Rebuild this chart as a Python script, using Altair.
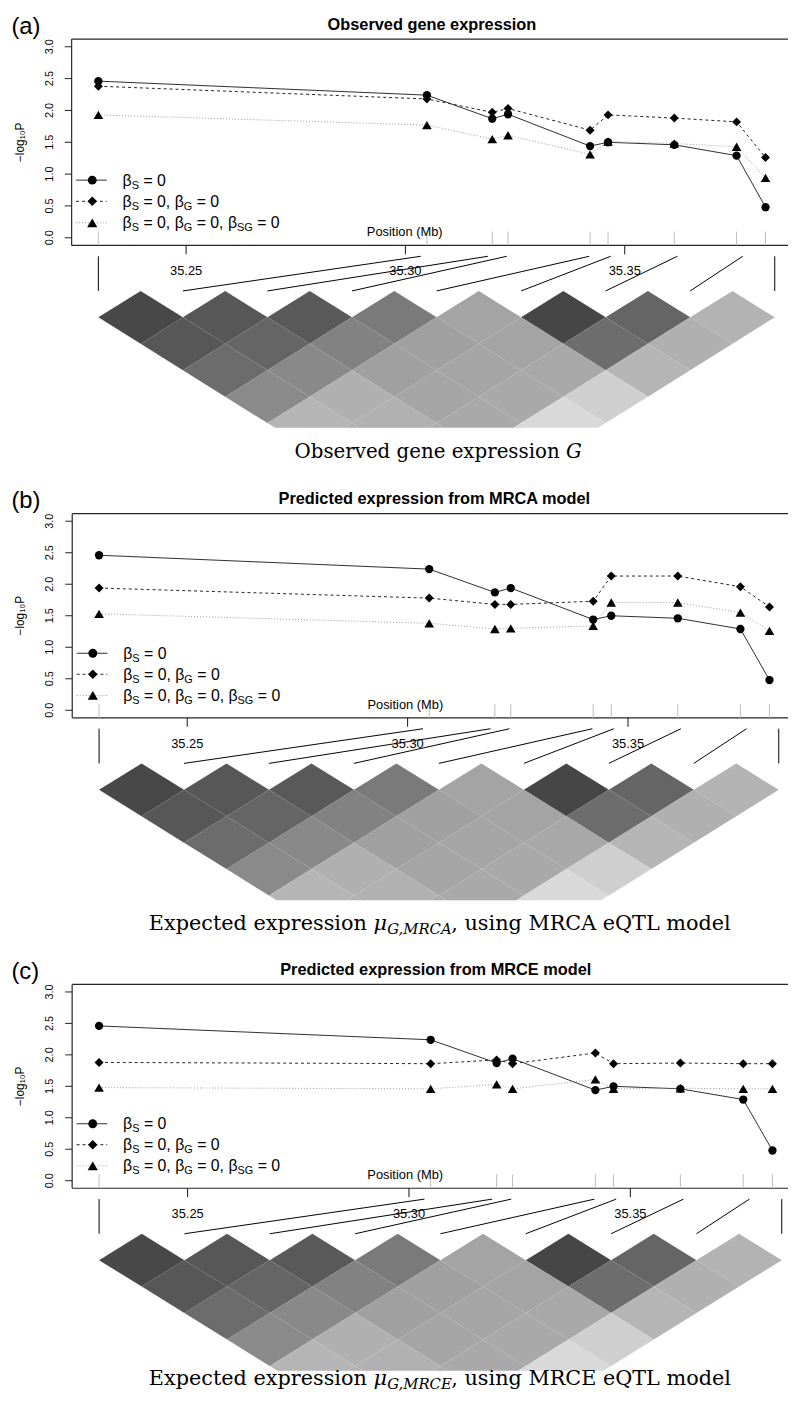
import altair as alt
import pandas as pd

# ---------------- values ----------------
snp_pos_mb = [35.2300, 35.3049, 35.3198, 35.3234, 35.3421, 35.3462, 35.3613, 35.3755, 35.3821]
ld_map_mb = [35.2300, 35.3035, 35.3188, 35.3231, 35.3419, 35.3468, 35.3620, 35.3769, 35.3842]
pos_tick_values = [35.25, 35.30, 35.35]
pos_tick_labels = ["35.25", "35.30", "35.35"]
logp_tick_values = [0.0, 0.5, 1.0, 1.5, 2.0, 2.5, 3.0]
logp_tick_labels = ["0.0", "0.5", "1.0", "1.5", "2.0", "2.5", "3.0"]

beta_s_zero = [2.46, 2.24, 1.87, 1.94, 1.44, 1.50, 1.46, 1.29, 0.48]
observed_s_g = [2.38, 2.18, 1.97, 2.03, 1.69, 1.93, 1.88, 1.82, 1.26]
observed_s_g_sg = [1.93, 1.77, 1.55, 1.61, 1.31, 1.51, 1.48, 1.43, 0.94]
mrca_s_g = [1.94, 1.78, 1.68, 1.68, 1.73, 2.13, 2.13, 1.96, 1.64]
mrca_s_g_sg = [1.53, 1.38, 1.29, 1.30, 1.34, 1.71, 1.71, 1.55, 1.26]
mrce_s_g = [1.88, 1.86, 1.92, 1.86, 2.03, 1.86, 1.87, 1.86, 1.86]
mrce_s_g_sg = [1.48, 1.46, 1.53, 1.46, 1.61, 1.46, 1.47, 1.46, 1.46]

# LD (r^2) between SNP i and SNP i+k, one list per distance k
ld_r2_rows = [
    [0.93, 0.84, 0.83, 0.635, 0.39, 0.94, 0.76, 0.30],
    [0.84, 0.76, 0.59, 0.41, 0.39, 0.71, 0.32],
    [0.72, 0.55, 0.41, 0.38, 0.365, 0.29],
    [0.54, 0.32, 0.38, 0.36, 0.135],
    [0.29, 0.31, 0.36, 0.076],
    [0.31, 0.34, 0.09],
]

legend_rows = [
    [("β", False), ("S", True), (" = 0", False)],
    [("β", False), ("S", True), (" = 0, ", False), ("β", False), ("G", True), (" = 0", False)],
    [("β", False), ("S", True), (" = 0, ", False), ("β", False), ("G", True), (" = 0, ", False),
     ("β", False), ("SG", True), (" = 0", False)],
]

# ---------------- layout / style ----------------
FONT = "Liberation Sans, Arial, Helvetica, sans-serif"
SERIF = "DejaVu Serif, Liberation Serif, serif"
O = 8.0                      # page margin: reference pixel -> view pixel
VW, VH = 796 - O, 1407 - 2 * O
Y_DOMAIN = [-0.12, 3.12]
MAP_TOP, MAP_BOT, ROW_PX, CUT_OFF = 11, 46, 26.7, 184.3
LEG_Y = [0.905, 0.572, 0.235]
LEG_FS, SUB_FS = 16, 11
ARIAL_W = {"β": 0.575, "S": 0.667, "G": 0.778, "=": 0.584, "0": 0.556, ",": 0.278, " ": 0.278}

SERIES = [
    dict(line=dict(color="#2e2e2e", strokeWidth=1), shape="circle", size=70),
    dict(line=dict(color="#222222", strokeWidth=1, strokeDash=[3, 3]), shape="diamond", size=82),
    dict(line=dict(color="#9a9a9a", strokeWidth=1, strokeDash=[1, 2]), shape="triangle-up", size=95),
]

panels = [
    dict(label="(a)", title="Observed gene expression", T=32.3, B=240.7, L=72.3, xf=99.3, xl=773.3,
         g=observed_s_g, sg=observed_s_g_sg, cap_base=455,
         caption=[("Observed gene expression", 565.3, "normal", 20, "right", 0),
                  ("G", 571.7, "italic", 20, "left", 0)]),
    dict(label="(b)", title="Predicted expression from MRCA model", T=511.7, B=718.0, L=72.9, xf=100, xl=777.3,
         g=mrca_s_g, sg=mrca_s_g_sg, cap_base=932,
         caption=[("Expected expression", 370.5, "normal", 21, "right", 0),
                  ("μ", 377.2, "italic", 21, "left", 0),
                  ("G,MRCA", 391.1, "italic", 15, "left", 4),
                  (", using MRCA eQTL model", 455.8, "normal", 21, "left", 0)]),
    dict(label="(c)", title="Predicted expression from MRCE model", T=987.3, B=1193.2, L=72.8, xf=100, xl=780.3,
         g=mrce_s_g, sg=mrce_s_g_sg, cap_base=1392,
         caption=[("Expected expression", 370.5, "normal", 21, "right", 0),
                  ("μ", 377.2, "italic", 21, "left", 0),
                  ("G,MRCE", 391.1, "italic", 15, "left", 4),
                  (", using MRCE eQTL model", 455.8, "normal", 21, "left", 0)]),
]

one = pd.DataFrame({"k": [0]})


def aw(s, fs):
    return sum(ARIAL_W[c] for c in s) * fs


def v(ref):
    """reference pixel -> view pixel"""
    return ref - O


def clipped_diamond(uc, k, dcut):
    """break points (u, top, bottom) of a rotated LD cell cut at depth dcut"""
    us = {uc - 0.5, uc, uc + 0.5}
    for h in ((dcut - k + 1) / 2, (k + 1 - dcut) / 2):
        if 0 < h < 0.5:
            us.update((uc - h, uc + h))
    out = []
    for u in sorted(us):
        a = abs(u - uc)
        out.append((u, min(k - 1 + 2 * a, dcut), min(k + 1 - 2 * a, dcut)))
    return out


def build_panel(p):
    T, B, L = p["T"], p["B"], p["L"]
    xsc = dict(domain=[snp_pos_mb[0], snp_pos_mb[-1]], range=[v(p["xf"]), v(p["xl"])],
               nice=False, zero=False)

    def X(f):
        return alt.X(f, type="quantitative", scale=alt.Scale(**xsc), axis=None)

    def Yp(f):
        return alt.Y(f, type="quantitative", axis=None,
                     scale=alt.Scale(domain=Y_DOMAIN, range=[v(B), v(T)], nice=False, zero=False))

    layers = []
    # plot frame (its right side lies outside the picture)
    fr = dict(color="#262626", strokeWidth=1.2)
    layers.append(alt.Chart(one).mark_rule(**fr).encode(x=alt.value(v(L)), x2=alt.value(VW), y=alt.value(v(T))))
    layers.append(alt.Chart(one).mark_rule(**fr).encode(x=alt.value(v(L)), x2=alt.value(VW), y=alt.value(v(B))))
    layers.append(alt.Chart(one).mark_rule(**fr).encode(x=alt.value(v(L)), y=alt.value(v(T)), y2=alt.value(v(B))))
    # y axis: ticks, rotated labels, title
    ydf = pd.DataFrame({"v": logp_tick_values, "lab": logp_tick_labels})
    layers.append(alt.Chart(ydf).mark_rule(color="#222", strokeWidth=1).encode(
        x=alt.value(v(L - 7)), x2=alt.value(v(L)), y=Yp("v")))
    layers.append(alt.Chart(ydf).mark_text(angle=270, align="center", baseline="middle", font=FONT,
                                           fontSize=11, color="black").encode(
        x=alt.value(v(50.6)), y=Yp("v"), text="lab:N"))
    layers.append(alt.Chart(one).mark_text(text="−log₁₀P", angle=270, align="center", baseline="middle",
                                           font=FONT, fontSize=12, color="black").encode(
        x=alt.value(v(20.5)), y=alt.value(v((T + B) / 2))))
    # rug of SNP positions
    snp_df = pd.DataFrame({"pos": snp_pos_mb, "map": ld_map_mb})
    layers.append(alt.Chart(snp_df).mark_rule(color="#bdbdbd", strokeWidth=1).encode(
        x=X("pos"), y=alt.value(v(B - 14)), y2=alt.value(v(B))))
    # the three test series
    vals = [beta_s_zero, p["g"], p["sg"]]
    for st, vv in zip(SERIES, vals):
        df = pd.DataFrame({"pos": snp_pos_mb, "val": vv})
        layers.append(alt.Chart(df).mark_line(**st["line"]).encode(x=X("pos"), y=Yp("val")))
    for st, vv in zip(SERIES, vals):
        df = pd.DataFrame({"pos": snp_pos_mb, "val": vv})
        layers.append(alt.Chart(df).mark_point(filled=True, shape=st["shape"], size=st["size"],
                                               color="black", opacity=1).encode(x=X("pos"), y=Yp("val")))
    # legend
    main_rows, sub_rows = [], []
    for ly, row in zip(LEG_Y, legend_rows):
        cur = v(L + 51.5)
        for s, is_sub in row:
            fs = SUB_FS if is_sub else LEG_FS
            lead = len(s) - len(s.lstrip(" "))
            (sub_rows if is_sub else main_rows).append(
                dict(px=cur + aw(" " * lead, fs), ly=ly, txt=s.strip()))
            cur += aw(s, fs)
    for st, ly in zip(SERIES, LEG_Y):
        ldf = pd.DataFrame({"ly": [ly]})
        layers.append(alt.Chart(ldf).mark_rule(**st["line"]).encode(
            x=alt.value(v(L + 4.5)), x2=alt.value(v(L + 35.5)), y=Yp("ly")))
        layers.append(alt.Chart(ldf).mark_point(filled=True, shape=st["shape"], size=st["size"] + 10,
                                                color="black", opacity=1).encode(
            x=alt.value(v(L + 20.8)), y=Yp("ly")))
    layers.append(alt.Chart(pd.DataFrame(main_rows)).mark_text(
        align="left", baseline="alphabetic", dy=5.5, font=FONT, fontSize=LEG_FS, color="black").encode(
        x=alt.X("px:Q", scale=None, axis=None), y=Yp("ly"), text="txt:N"))
    layers.append(alt.Chart(pd.DataFrame(sub_rows)).mark_text(
        align="left", baseline="alphabetic", dy=8.5, font=FONT, fontSize=SUB_FS, color="black").encode(
        x=alt.X("px:Q", scale=None, axis=None), y=Yp("ly"), text="txt:N"))
    # position axis (ticks + labels)
    tdf = pd.DataFrame({"v": pos_tick_values, "lab": pos_tick_labels})
    layers.append(alt.Chart(tdf).mark_rule(color="#111", strokeWidth=1).encode(
        x=X("v"), y=alt.value(v(B)), y2=alt.value(v(B + 9))))
    layers.append(alt.Chart(tdf).mark_text(baseline="middle", align="center", font=FONT, fontSize=13,
                                           color="black").encode(
        x=X("v"), y=alt.value(v(B + 26.3)), text="lab:N"))
    layers.append(alt.Chart(one).mark_text(text="Position (Mb)", baseline="middle", align="center",
                                           font=FONT, fontSize=13, color="black").encode(
        x=alt.value(v(L + 336.5)), y=alt.value(v(B - 13))))
    # connectors from the physical map to the heat-map grid
    step = (ld_map_mb[-1] - ld_map_mb[0]) / (len(ld_map_mb) - 1)
    snp_df["grid"] = [ld_map_mb[0] + i * step for i in range(len(ld_map_mb))]
    layers.append(alt.Chart(snp_df).mark_rule(color="black", strokeWidth=1).encode(
        x=X("map"), x2="grid:Q", y=alt.value(v(B + MAP_TOP)), y2=alt.value(v(B + MAP_BOT))))
    # LD heat map (rotated cells, cut at the bottom)
    dmax = (CUT_OFF - MAP_BOT) / ROW_PX
    cells = []
    for k, row in enumerate(ld_r2_rows, start=1):
        for i, r2 in enumerate(row):
            if k - 1 >= dmax:
                continue
            for u, d1, d2 in clipped_diamond(i + k / 2, k, dmax):
                cells.append(dict(cell=f"{i}-{i + k}", xm=ld_map_mb[0] + u * step, d1=d1, d2=d2, r2=r2))
    hy = alt.Scale(domain=[0, dmax], range=[v(B + MAP_BOT), v(B + CUT_OFF)], nice=False, zero=False)
    layers.append(alt.Chart(pd.DataFrame(cells)).mark_area(interpolate="linear").encode(
        x=X("xm"), y=alt.Y("d1:Q", scale=hy, axis=None, stack=None), y2="d2:Q",
        color=alt.Color("r2:Q", legend=None,
                        scale=alt.Scale(domain=[0, 1], range=["#e6e6e6", "#3c3c3c"], interpolate="rgb")),
        detail="cell:N"))
    # caption
    for txt, xr, style, size, align, dy in p["caption"]:
        layers.append(alt.Chart(one).mark_text(text=txt, font=SERIF, fontSize=size, fontStyle=style,
                                               align=align, baseline="alphabetic", color="black").encode(
            x=alt.value(v(xr)), y=alt.value(v(p["cap_base"] + dy))))
    # title and panel letter
    center = (L + p["xl"] + 0.04 * (p["xl"] - p["xf"])) / 2
    layers.append(alt.Chart(one).mark_text(text=p["title"], font=FONT, fontSize=16.5, fontWeight="bold",
                                           align="center", baseline="alphabetic", color="black").encode(
        x=alt.value(v(center)), y=alt.value(v(T - 9.6))))
    layers.append(alt.Chart(one).mark_text(text=p["label"], font=FONT, fontSize=24, align="left",
                                           baseline="alphabetic", color="black").encode(
        x=alt.value(v(11.5)), y=alt.value(v(T - 5.5))))
    return layers


all_layers = []
for p in panels:
    all_layers.extend(build_panel(p))

chart = alt.layer(*all_layers).resolve_scale(
    x="independent", y="independent", color="independent"
).properties(
    width=VW, height=VH, padding=0, background="white",
    autosize=alt.AutoSizeParams(type="none"),
).configure_view(stroke=None)

chart.save("out.html", embed_options={"renderer": "svg", "actions": False})
